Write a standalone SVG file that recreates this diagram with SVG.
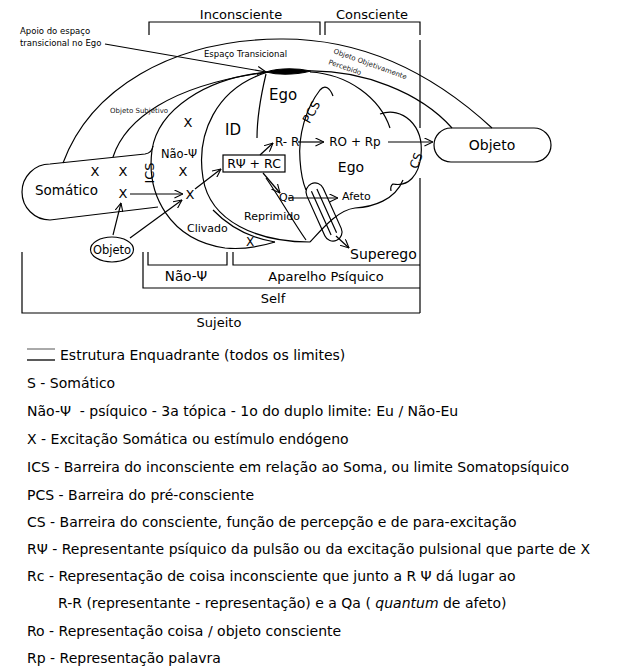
<svg xmlns="http://www.w3.org/2000/svg" width="624" height="672" viewBox="0 0 624 672">
<style>
text{font-family:"DejaVu Sans",Verdana,sans-serif;fill:#000}
.ln{fill:none;stroke:#000;stroke-width:1.2}
.arr{fill:none;stroke:#000;stroke-width:1.2;marker-end:url(#ah)}
.lg{font-size:14px}
.m{text-anchor:middle}
.sm{font-size:8.5px}
.xs{font-size:7px;fill:#222}
</style>
<defs>
<marker id="ah" viewBox="0 0 10 10" refX="9.5" refY="5" markerWidth="9" markerHeight="9" markerUnits="userSpaceOnUse" orient="auto">
<path d="M0,0.5 L9.5,5 L0,9.5" fill="none" stroke="#000" stroke-width="1.2"/>
</marker>
</defs>
<rect width="624" height="672" fill="#fff"/>

<g id="brackets" class="ln">
<path d="M149,35 V22 H320 V35"/>
<path d="M325,35 V22 H420 V35"/>
<path d="M420,40 V128"/>
<path d="M420,178 V313"/>
<path d="M148,252 V265 H227 V252"/>
<path d="M233,252 V265 H420"/>
<path d="M143,252 V288 H420"/>
<path d="M22,252 V313 H420"/>
</g>
<g id="bracket-labels">
<text class="m" x="241" y="19" font-size="13">Inconsciente</text>
<text class="m" x="372" y="19" font-size="13">Consciente</text>
<text class="m" x="186" y="281" font-size="13.5">Não-Ψ</text>
<text class="m" x="326" y="281" font-size="13">Aparelho Psíquico</text>
<text class="m" x="273" y="303" font-size="13">Self</text>
<text class="m" x="219" y="327" font-size="13">Sujeito</text>
</g>

<g id="regions" class="ln">
<path id="outer-arc" d="M63,163 C90,90 170,40 280,39 C370,38 440,80 492,128"/>
<path id="obj-percebido" d="M308,71 C362,70 420,92 452,128"/>
<path id="obj-subjetivo" d="M113,157 C125,120 170,85 268,72"/>
<path id="ics-circle" d="M268,72 C205,78 158,110 152,150 C146,195 170,240 225,248 C245,250 262,246 275,242"/>
<path id="clivado-inner" d="M213,210 Q238,236 275,242"/>
<path id="id-circle" d="M268,72 C215,88 196,135 203,178 C210,222 258,242 310,242"/>
<path id="id-ego-divider" d="M266,74 C261,95 257,118 257,138"/>
<path id="reprimido-line" d="M266,178 C280,198 292,220 306,240"/>
<path id="pcs" d="M333,96 C330,88 325,84 320,90 C306,108 298,135 300,160 C301,175 303,183 306,190"/>
<path id="ego-s1" d="M310,72 C348,74 380,98 390,128"/>
<path id="ego-s2" d="M380,114 C402,106 424,125 421,155 C419,176 408,187 393,184 Q390,186 391,191"/>
<path id="ego-s3" d="M403,180 C395,200 373,207 355,208 C338,210 323,228 310,242"/>
<path id="lens" d="M266,72 Q286,66 311,71 Q286,77 266,72Z" fill="#000"/>
</g>

<g id="somatico">
<path class="ln" d="M153,146 Q152,153 145,154 L50,164 A28,28 0 0 0 50,220 L158,207"/>
<text x="35" y="195" font-size="13.5">Somático</text>
</g>

<g id="superego-tube">
<g transform="translate(324,212) rotate(65.8)" class="ln">
<rect x="-31" y="-9" width="62" height="18" rx="9"/>
<path d="M-24,-3 H24 M-24,3 H24"/>
</g>
</g>

<g id="objeto-left">
<ellipse class="ln" cx="112" cy="249.5" rx="21.5" ry="12.5"/>
<text class="m" x="112" y="254" font-size="11.5">Objeto</text>
</g>

<g id="objeto-right">
<rect class="ln" x="434" y="128" width="117" height="34" rx="17"/>
<text class="m" x="492" y="150" font-size="14">Objeto</text>
</g>

<g id="rpsi-box">
<rect class="ln" x="223" y="155" width="62" height="17"/>
<text class="m" x="254" y="168" font-size="12.5">RΨ + RC</text>
</g>

<g id="connectors">
<path class="ln" d="M105,44 L266,72" marker-end="url(#ah)"/>
<path class="arr" d="M113,235 L121,203"/>
<path class="arr" d="M130,238 L182,200"/>
<path class="arr" d="M130,194 L183,194"/>
<path class="arr" d="M195,189 L221,169"/>
<path class="arr" d="M260,155 L273,143"/>
<path class="arr" d="M298,142 L324,142"/>
<path class="arr" d="M388,142 L433,142"/>
<path class="arr" d="M263,173 L280,193"/>
<path class="arr" d="M288,198 L338,198"/>
<path class="arr" d="M336,236 L349,248"/>
</g>

<g id="labels">
<text x="20" y="34" class="sm">Apoio do espaço</text>
<text x="20" y="46" class="sm">transicional no Ego</text>
<text x="204" y="57" class="sm">Espaço Transicional</text>
<text x="110" y="113" class="xs">Objeto Subjetivo</text>
<text class="xs" transform="translate(333,53) rotate(20)">Objeto Objetivamente</text>
<text class="xs" transform="translate(328,64) rotate(19)">Percebido</text>
<text class="m" x="188" y="127" font-size="13">X</text>
<text class="m" x="179" y="158" font-size="11.5">Não-Ψ</text>
<text class="m" x="95" y="176" font-size="13">X</text>
<text class="m" x="123" y="176" font-size="13">X</text>
<text class="m" x="183" y="176" font-size="13">X</text>
<text class="m" x="123" y="198" font-size="13">X</text>
<text class="m" x="190" y="199" font-size="13">X</text>
<text class="m" font-size="13" transform="translate(154,173) rotate(-90)">ICS</text>
<text class="m" x="283" y="100" font-size="15">Ego</text>
<text class="m" x="233" y="135" font-size="15">ID</text>
<text x="275" y="146" font-size="12">R- R</text>
<text class="m" x="355" y="146" font-size="12">RO + Rp</text>
<text class="m" x="351" y="172" font-size="14">Ego</text>
<text class="m" font-size="12" transform="translate(315,114) rotate(-62)">PCS</text>
<text class="m" font-size="12" transform="translate(420,162) rotate(-70)">CS</text>
<text x="279" y="201" font-size="11">Qa</text>
<text x="342" y="200" font-size="11">Afeto</text>
<text x="244" y="220" font-size="11">Reprimido</text>
<text x="187" y="232" font-size="11">Clivado</text>
<text class="m" x="250" y="246" font-size="12">X</text>
<text x="350" y="259" font-size="14">Superego</text>
</g>

<g id="legend">
<path d="M27,349 H55" stroke="#555" stroke-width="1"/>
<path d="M27,360 H55" stroke="#000" stroke-width="1.3"/>
<text class="lg" x="60" y="360">Estrutura Enquadrante (todos os limites)</text>
<text class="lg" x="27" y="388">S - Somático</text>
<text class="lg" x="27" y="416">Não-Ψ&#160; - psíquico - 3a tópica - 1o do duplo limite: Eu / Não-Eu</text>
<text class="lg" x="27" y="444">X - Excitação Somática ou estímulo endógeno</text>
<text class="lg" x="27" y="472">ICS - Barreira do inconsciente em relação ao Soma, ou limite Somatopsíquico</text>
<text class="lg" x="27" y="500">PCS - Barreira do pré-consciente</text>
<text class="lg" x="27" y="527">CS - Barreira do consciente, função de percepção e de para-excitação</text>
<text class="lg" x="27" y="554">RΨ - Representante psíquico da pulsão ou da excitação pulsional que parte de X</text>
<text class="lg" x="27" y="581">Rc - Representação de coisa inconsciente que junto a R Ψ dá lugar ao</text>
<text class="lg" x="58" y="608">R-R (representante - representação) e a Qa ( <tspan font-style="italic">quantum</tspan> de afeto)</text>
<text class="lg" x="27" y="636">Ro - Representação coisa / objeto consciente</text>
<text class="lg" x="27" y="663">Rp - Representação palavra</text>
</g>
</svg>
